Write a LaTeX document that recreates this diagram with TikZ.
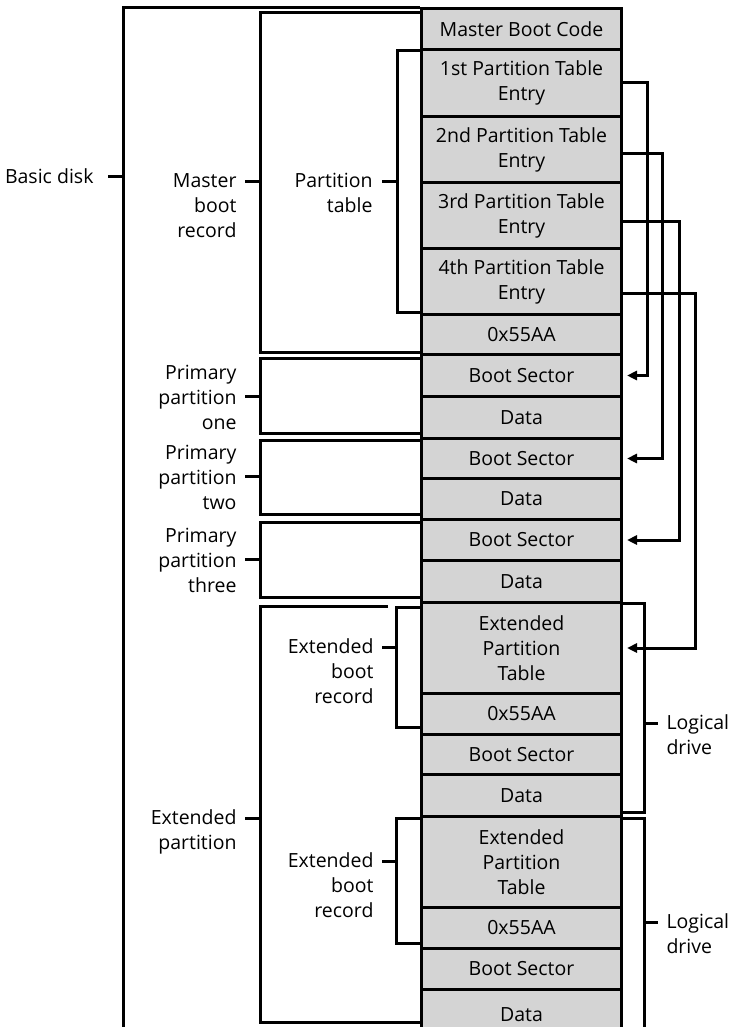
\documentclass[tikz,border=0pt]{standalone}
\usepackage{fontspec}
\setmainfont{Open Sans}
\usetikzlibrary{arrows.meta}
\definecolor{cellgray}{gray}{0.83}
\newcommand\lblfont{\fontsize{19.5}{25}\selectfont}
% right-aligned / left-aligned multi-line labels whose baseline is the first line
\newcommand\rlines[1]{\begin{tabular}[t]{@{}r@{}}#1\end{tabular}}
\newcommand\llines[1]{\begin{tabular}[t]{@{}l@{}}#1\end{tabular}}
\begin{document}
\begin{tikzpicture}[x=1pt,y=-1pt,line width=3pt,
  cell/.style={draw,fill=cellgray,minimum width=200pt,inner sep=0pt,
    anchor=north west,align=center,font=\lblfont},
  lbl/.style={inner sep=0pt,font=\lblfont},
  bracket/.style={draw,line join=miter},
  link/.style={draw,-{Triangle[length=10pt,width=9pt]},shorten >=4pt}]
\useasboundingbox (0,0) rectangle (730,1027);
\clip (0,0) rectangle (730,1027);

% the sector column
\node[cell,minimum height=41pt] (mbc)  at (420,7)   {Master Boot Code};
\node[cell,minimum height=67pt] (e1)   at (420,48)  {1st Partition Table\\Entry};
\node[cell,minimum height=66pt] (e2)   at (420,115) {2nd Partition Table\\Entry};
\node[cell,minimum height=66pt] (e3)   at (420,181) {3rd Partition Table\\Entry};
\node[cell,minimum height=66pt] (e4)   at (420,247) {4th Partition Table\\Entry};
\node[cell,minimum height=40pt] (sig)  at (420,313) {0x55AA};
\node[cell,minimum height=42pt] (bs1)  at (420,353) {Boot Sector};
\node[cell,minimum height=42pt] (d1)   at (420,395) {Data};
\node[cell,minimum height=40pt] (bs2)  at (420,437) {Boot Sector};
\node[cell,minimum height=41pt] (d2)   at (420,477) {Data};
\node[cell,minimum height=41pt] (bs3)  at (420,518) {Boot Sector};
\node[cell,minimum height=42pt] (d3)   at (420,559) {Data};
\node[cell,minimum height=91pt] (ept1) at (420,601) {Extended\\Partition\\Table};
\node[cell,minimum height=41pt] (sg1)  at (420,692) {0x55AA};
\node[cell,minimum height=40pt] (lbs1) at (420,733) {Boot Sector};
\node[cell,minimum height=42pt] (ld1)  at (420,773) {Data};
\node[cell,minimum height=91pt] (ept2) at (420,815) {Extended\\Partition\\Table};
\node[cell,minimum height=41pt] (sg2)  at (420,906) {0x55AA};
\node[cell,minimum height=41pt] (lbs2) at (420,947) {Boot Sector};
\node[cell,minimum height=50pt] (ld2)  at (420,988) {Data};

% brackets on the left
\draw[bracket] (420,8) -- (123,8) -- (123,1040);
\draw[bracket] (108,177) -- (123,177);
\draw[bracket] (420,13) -- (260,13) -- (260,352) -- (420,352);
\draw[bracket] (245,182) -- (260,182);
\draw[bracket] (420,51) -- (397,51) -- (397,312) -- (420,312);
\draw[bracket] (382,182) -- (397,182);
\draw[bracket] (420,358) -- (260,358) -- (260,433) -- (420,433);
\draw[bracket] (245,396) -- (260,396);
\draw[bracket] (420,440) -- (260,440) -- (260,514) -- (420,514);
\draw[bracket] (245,476) -- (260,476);
\draw[bracket] (420,522) -- (260,522) -- (260,597) -- (420,597);
\draw[bracket] (245,559) -- (260,559);
\draw[bracket] (388,606) -- (260,606) -- (260,1022) -- (420,1022);
\draw[bracket] (245,818) -- (260,818);
\draw[bracket] (420,607) -- (396,607) -- (396,727) -- (420,727);
\draw[bracket] (382,647) -- (396,647);
\draw[bracket] (420,818) -- (396,818) -- (396,943) -- (420,943);
\draw[bracket] (382,861) -- (396,861);

% brackets on the right
\draw[bracket] (620,603) -- (644,603) -- (644,812) -- (620,812);
\draw[bracket] (644,723) -- (658,723);
\draw[bracket] (620,818) -- (644,818) -- (644,1040);
\draw[bracket] (644,922) -- (658,922);

% labels
\node[lbl,anchor=base east] (disk) at (95,184) {Basic disk};
\node[lbl,anchor=base east] (mbr)  at (238,187) {\rlines{Master\\boot\\record}};
\node[lbl,anchor=base east] (pt)   at (374,187) {\rlines{Partition\\table}};
\node[lbl,anchor=base east] (pp1)  at (238,379) {\rlines{Primary\\partition\\one}};
\node[lbl,anchor=base east] (pp2)  at (238,459) {\rlines{Primary\\partition\\two}};
\node[lbl,anchor=base east] (pp3)  at (238,542) {\rlines{Primary\\partition\\three}};
\node[lbl,anchor=base east] (ep)   at (238,824) {\rlines{Extended\\partition}};
\node[lbl,anchor=base east] (ebr1) at (375,653) {\rlines{Extended\\boot\\record}};
\node[lbl,anchor=base east] (ebr2) at (375,867) {\rlines{Extended\\boot\\record}};
\node[lbl,anchor=base west] (ldr1) at (665,729) {\llines{Logical\\drive}};
\node[lbl,anchor=base west] (ldr2) at (665,928) {\llines{Logical\\drive}};

% partition table entries point at the partitions they describe
\draw[link] ([yshift=0pt]e1.east)  -- ++(24,0) |- (bs1.east);
\draw[link] ([yshift=-4pt]e2.east) -- ++(39,0) |- (bs2.east);
\draw[link] ([yshift=-6pt]e3.east) -- ++(56,0) |- (bs3.east);
\draw[link] ([yshift=-12pt]e4.east) -- ++(72,0) |- (ept1.east);
\end{tikzpicture}
\end{document}
